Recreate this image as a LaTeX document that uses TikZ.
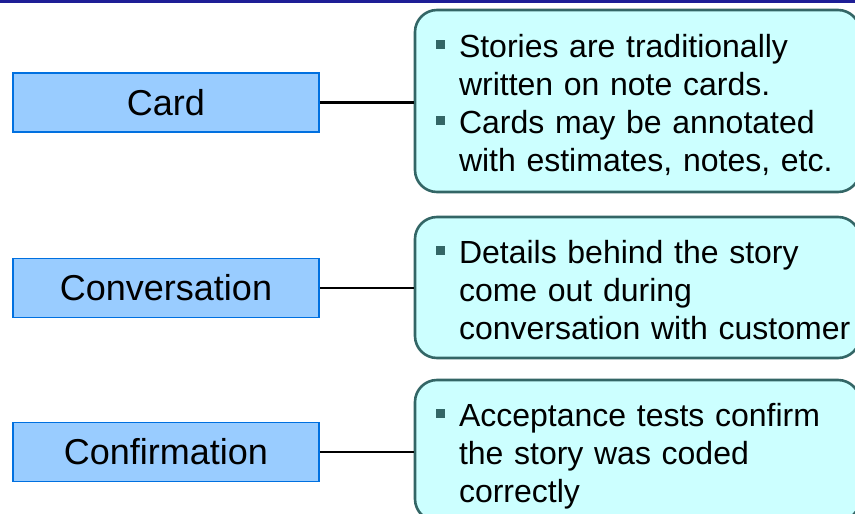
\documentclass[tikz,border=0pt]{standalone}
\usepackage{fontspec}
\setmainfont{Liberation Sans}
\usepackage{tikz}
\usetikzlibrary{positioning, calc}

\definecolor{labelfill}{RGB}{153,204,255}
\definecolor{labeldraw}{RGB}{0,112,224}
\definecolor{notefill}{RGB}{204,255,255}
\definecolor{notedraw}{RGB}{51,102,102}
\definecolor{topblue}{RGB}{30,30,150}

% bullet point and continued line in a note box
\newcommand{\bitem}{\makebox[36.5pt][r]{\textcolor{notedraw}{\rule[8pt]{9pt}{9pt}}\hspace{14pt}}}
\newcommand{\bcont}{\hspace*{36.5pt}}

\tikzset{
    x=1pt, y=-1pt, % work in pixels of the slide
    labelbox/.style={draw=labeldraw, line width=1.8pt, fill=labelfill,
        minimum width=306pt, minimum height=59pt, inner sep=0pt,
        font=\fontsize{36}{43}\selectfont}, % the three blue keywords
    notebox/.style={draw=notedraw, line width=2.6pt, fill=notefill,
        rounded corners=22pt, text width=430pt, inner xsep=7.5pt, inner ysep=0pt,
        align=left, font=\fontsize{32}{38}\selectfont}, % the cyan explanations
    link/.style={line width=2.2pt, black}, % joins keyword and note
}

\begin{document}
\begin{tikzpicture}
    \useasboundingbox (0,0) rectangle (855,514);
    \draw[topblue, line width=2.5pt] (0,1.5) -- (855,1.5);

    \node[labelbox] (card) at (166,102.5) {Card};
    \node[labelbox] (conv) at (166,288) {Conversation};
    \node[labelbox] (conf) at (166,452) {Confirmation};

    \node[notebox, minimum height=182pt, text height=31pt] (cardnote) at (637.5,101)
        {\bitem Stories are traditionally\\ \bcont written on note cards.\\
         \bitem Cards may be annotated\\ \bcont with estimates, notes, etc.};
    \node[notebox, minimum height=141pt, text height=28pt] (convnote) at (637.5,287.5)
        {\bitem Details behind the story\\ \bcont come out during\\
         \bcont conversation with customer};
    \node[notebox, minimum height=141pt, text height=34pt] (confnote) at (637.5,450.5)
        {\bitem Acceptance tests confirm\\ \bcont the story was coded\\
         \bcont correctly};

    \draw[link] (card.east) -- (card.east -| cardnote.west)
        (conv.east) -- (conv.east -| convnote.west)
        (conf.east) -- (conf.east -| confnote.west);
\end{tikzpicture}
\end{document}
